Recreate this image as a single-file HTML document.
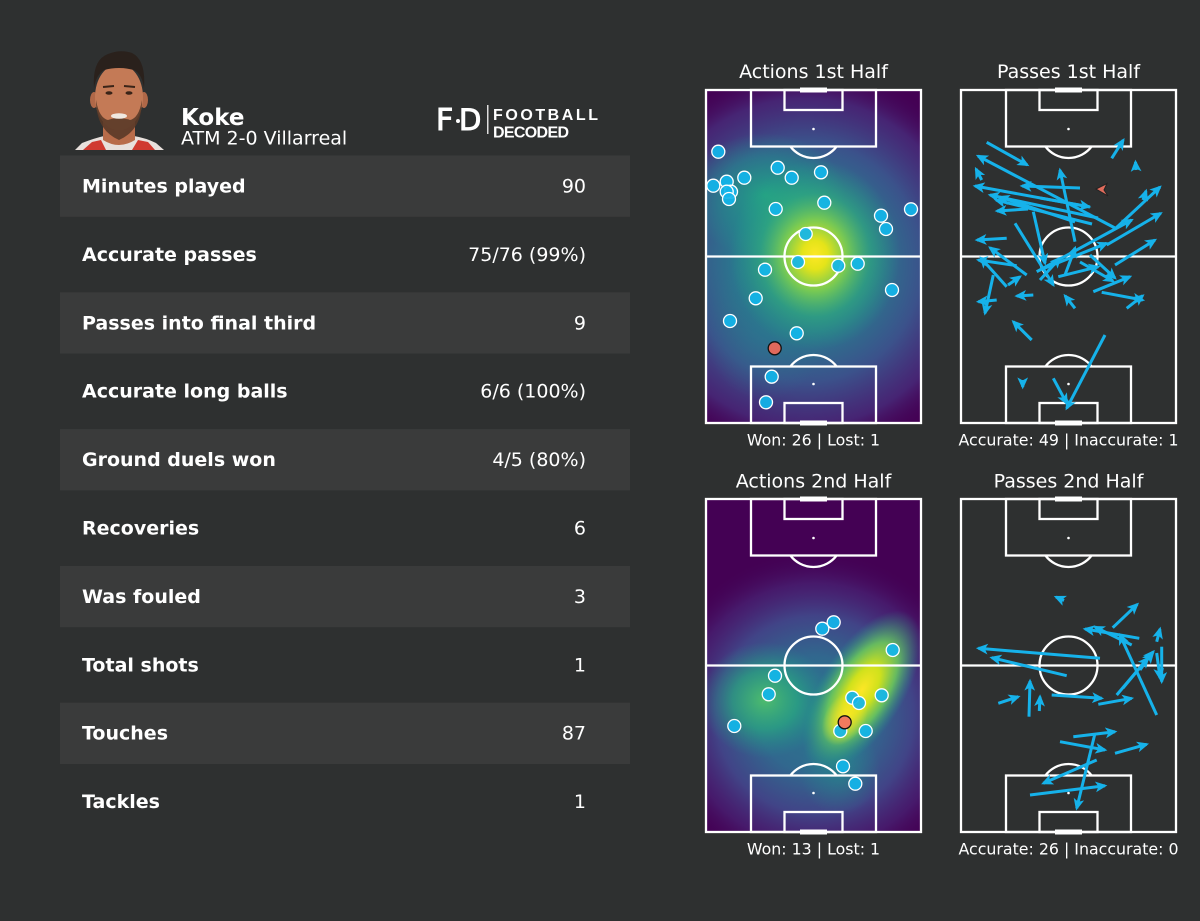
<!DOCTYPE html>
<html><head><meta charset="utf-8"><style>html,body{margin:0;padding:0;background:#2e3030;}svg{display:block;}</style></head>
<body>
<svg width="1200" height="921" viewBox="0 0 1200 921" xmlns="http://www.w3.org/2000/svg" font-family="DejaVu Sans, Liberation Sans, sans-serif">
<defs>
<clipPath id="c1"><rect x="706" y="90" width="215" height="333"/></clipPath>
<clipPath id="c2"><rect x="706" y="499" width="215" height="333"/></clipPath>
<radialGradient id="a1"><stop offset="0" stop-color="#21918c"/><stop offset="0.35" stop-color="#2a788e"/><stop offset="0.6" stop-color="#3b528b"/><stop offset="0.82" stop-color="#472d7b" stop-opacity="0.8"/><stop offset="1" stop-color="#440154" stop-opacity="0"/></radialGradient>
<radialGradient id="a2"><stop offset="0" stop-color="#22a884" stop-opacity="0.85"/><stop offset="0.6" stop-color="#21918c" stop-opacity="0.5"/><stop offset="1" stop-color="#21918c" stop-opacity="0"/></radialGradient>
<radialGradient id="a3"><stop offset="0" stop-color="#fde725"/><stop offset="0.15" stop-color="#e5e419"/><stop offset="0.38" stop-color="#86d549" stop-opacity="0.85"/><stop offset="0.65" stop-color="#35b779" stop-opacity="0.5"/><stop offset="1" stop-color="#22a884" stop-opacity="0"/></radialGradient>
<radialGradient id="a4"><stop offset="0" stop-color="#2a788e" stop-opacity="0.6"/><stop offset="1" stop-color="#2a788e" stop-opacity="0"/></radialGradient>
<radialGradient id="b1"><stop offset="0" stop-color="#2a788e"/><stop offset="0.35" stop-color="#31688e"/><stop offset="0.6" stop-color="#414487"/><stop offset="0.8" stop-color="#482475" stop-opacity="0.7"/><stop offset="1" stop-color="#440154" stop-opacity="0"/></radialGradient>
<radialGradient id="b2"><stop offset="0" stop-color="#52c569" stop-opacity="0.9"/><stop offset="0.5" stop-color="#29af7f" stop-opacity="0.65"/><stop offset="1" stop-color="#21918c" stop-opacity="0"/></radialGradient>
<radialGradient id="b3"><stop offset="0" stop-color="#fde725"/><stop offset="0.3" stop-color="#d0e11c"/><stop offset="0.6" stop-color="#6ece58" stop-opacity="0.85"/><stop offset="1" stop-color="#1f9e89" stop-opacity="0"/></radialGradient>
<radialGradient id="b4"><stop offset="0" stop-color="#fde725"/><stop offset="1" stop-color="#fde725" stop-opacity="0"/></radialGradient>
<radialGradient id="b5"><stop offset="0" stop-color="#21918c" stop-opacity="0.6"/><stop offset="1" stop-color="#21918c" stop-opacity="0"/></radialGradient>
<marker id="ah" viewBox="0 0 10 9" refX="8" refY="4.5" markerWidth="12" markerHeight="11" markerUnits="userSpaceOnUse" orient="auto"><path d="M0,0 L10,4.5 L0,9 L2.5,4.5 Z" fill="#16b2ea"/></marker>
<g id="pl">
<g fill="none" stroke="#fff" stroke-width="2.3">
<rect x="706" y="90" width="215" height="333"/>
<line x1="706" y1="256.5" x2="921" y2="256.5"/>
<circle cx="813.5" cy="256.5" r="29"/>
<rect x="751" y="90" width="125" height="56.5"/>
<rect x="784.5" y="90" width="58" height="20"/>
<path d="M790.4,146.5 A29,29 0 0 0 836.6,146.5"/>
<rect x="751" y="366.5" width="125" height="56.5"/>
<rect x="784.5" y="403" width="58" height="20"/>
<path d="M790.4,366.5 A29,29 0 0 1 836.6,366.5"/>
</g>
<rect x="800" y="87.5" width="27" height="5" fill="#fff"/>
<rect x="800" y="420.5" width="27" height="5" fill="#fff"/>
<circle cx="813.5" cy="129" r="1.3" fill="#fff"/>
<circle cx="813.5" cy="384" r="1.3" fill="#fff"/>
</g>
</defs>

<rect width="1200" height="921" fill="#2e3030"/>

<!-- Photo -->
<g>
<path d="M75,150 L82,143 Q95,138 104,136 L134,136 Q146,138 156,143 L164,150 Z" fill="#e8e0dc"/>
<path d="M83,150 L92,142 L101,140 L106,150 Z" fill="#d03a30"/>
<path d="M132,150 L138,140 L148,142 L155,150 Z" fill="#d03a30"/>
<path d="M103,118 L103,140 Q119,150 135,140 L135,118 Z" fill="#b86c4a"/>
<ellipse cx="94" cy="100" rx="4" ry="8" fill="#b06848"/>
<ellipse cx="144" cy="100" rx="4" ry="8" fill="#b06848"/>
<ellipse cx="119" cy="97" rx="24" ry="33" fill="#c47a56"/>
<path d="M94,88 Q92,60 108,54 Q120,49 132,53 Q146,60 144,88 Q142,74 134,70 Q119,66 104,70 Q96,75 94,88 Z" fill="#2a211c"/>
<path d="M96,100 Q96,130 119,140 Q142,130 142,100 Q139,118 130,120 Q119,116 108,120 Q99,118 96,100 Z" fill="#5a3a28" opacity="0.9"/>
<ellipse cx="119" cy="116" rx="8" ry="2.8" fill="#f0e8e0"/>
<ellipse cx="109" cy="93" rx="3.5" ry="1.8" fill="#3a2418"/>
<ellipse cx="129" cy="93" rx="3.5" ry="1.8" fill="#3a2418"/>
<path d="M103,87 L114,86 M124,86 L135,87" stroke="#3a2418" stroke-width="2"/>
</g>

<text x="181" y="125" font-size="23" font-weight="bold" fill="#fff">Koke</text>
<text x="181" y="144.5" font-size="19" fill="#fff">ATM 2-0 Villarreal</text>

<!-- Logo -->
<text x="436" y="130" font-size="30" fill="#fff" stroke="#fff" stroke-width="1">F</text>
<circle cx="458" cy="121" r="2" fill="#fff"/>
<text x="459" y="130" font-size="29" fill="#fff" stroke="#fff" stroke-width="1">D</text>
<rect x="487" y="105" width="1.5" height="29" fill="#ddd"/>
<text x="493" y="120" font-size="16" font-weight="bold" font-family="Liberation Sans, sans-serif" fill="#fff" textLength="105" lengthAdjust="spacing">FOOTBALL</text>
<text x="493" y="137.5" font-size="16" font-weight="bold" font-family="Liberation Sans, sans-serif" fill="#fff" textLength="76" lengthAdjust="spacing">DECODED</text>

<!-- Table -->
<g fill="#3a3b3b">
<rect x="60" y="155.5" width="570" height="61.3"/>
<rect x="60" y="292.3" width="570" height="61.3"/>
<rect x="60" y="429.1" width="570" height="61.3"/>
<rect x="60" y="565.9" width="570" height="61.3"/>
<rect x="60" y="702.7" width="570" height="61.3"/>
</g>
<g font-size="19" fill="#fff">
<g font-weight="bold">
<text x="82" y="192.5">Minutes played</text>
<text x="82" y="260.9">Accurate passes</text>
<text x="82" y="329.3">Passes into final third</text>
<text x="82" y="397.7">Accurate long balls</text>
<text x="82" y="466.1">Ground duels won</text>
<text x="82" y="534.5">Recoveries</text>
<text x="82" y="602.9">Was fouled</text>
<text x="82" y="671.3">Total shots</text>
<text x="82" y="739.7">Touches</text>
<text x="82" y="808.1">Tackles</text>
</g>
<g text-anchor="end">
<text x="586" y="192.5">90</text>
<text x="586" y="260.9">75/76 (99%)</text>
<text x="586" y="329.3">9</text>
<text x="586" y="397.7">6/6 (100%)</text>
<text x="586" y="466.1">4/5 (80%)</text>
<text x="586" y="534.5">6</text>
<text x="586" y="602.9">3</text>
<text x="586" y="671.3">1</text>
<text x="586" y="739.7">87</text>
<text x="586" y="808.1">1</text>
</g>
</g>

<!-- Titles & captions -->
<g fill="#fff" text-anchor="middle">
<text x="813.5" y="78" font-size="19">Actions 1st Half</text>
<text x="1068.5" y="78" font-size="19">Passes 1st Half</text>
<text x="813.5" y="487.5" font-size="19">Actions 2nd Half</text>
<text x="1068.5" y="487.5" font-size="19">Passes 2nd Half</text>
<text x="813.5" y="445.5" font-size="15.8">Won: 26 | Lost: 1</text>
<text x="1068.5" y="445.5" font-size="15.8">Accurate: 49 | Inaccurate: 1</text>
<text x="813.5" y="854.5" font-size="15.8">Won: 13 | Lost: 1</text>
<text x="1068.5" y="854.5" font-size="15.8">Accurate: 26 | Inaccurate: 0</text>
</g>

<!-- Heatmap 1 -->
<g clip-path="url(#c1)">
<rect x="706" y="90" width="215" height="333" fill="#440154"/>
<ellipse cx="805" cy="262" rx="195" ry="200" fill="url(#a1)"/>
<ellipse cx="765" cy="195" rx="80" ry="62" fill="url(#a2)"/>
<ellipse cx="765" cy="330" rx="60" ry="70" fill="url(#a4)"/>
<ellipse cx="815" cy="255" rx="85" ry="95" fill="url(#a3)"/>
</g>
<use href="#pl"/>

<!-- Heatmap 2 -->
<g clip-path="url(#c2)">
<rect x="706" y="499" width="215" height="333" fill="#440154"/>
<ellipse cx="815" cy="715" rx="165" ry="165" fill="url(#b1)"/>
<ellipse cx="840" cy="770" rx="40" ry="45" fill="url(#b5)"/>
<ellipse cx="765" cy="700" rx="65" ry="58" fill="url(#b2)"/>
<ellipse cx="862" cy="690" rx="42" ry="90" fill="url(#b3)" transform="rotate(32 862 690)"/>
<ellipse cx="845" cy="718" rx="20" ry="30" fill="url(#b4)" transform="rotate(32 845 718)"/>
</g>
<use href="#pl" transform="translate(0,409)"/>

<!-- Pass pitches -->
<use href="#pl" transform="translate(255,0)"/>
<use href="#pl" transform="translate(255,409)"/>

<!-- Action points 1st half -->
<g fill="#12b5ea" fill-opacity="0.92" stroke="#fff" stroke-width="1.3">
<circle cx="718.3" cy="151.7" r="6.5"/>
<circle cx="777.7" cy="167.7" r="6.5"/>
<circle cx="791.7" cy="177.7" r="6.5"/>
<circle cx="821" cy="172.3" r="6.5"/>
<circle cx="744.3" cy="177.7" r="6.5"/>
<circle cx="726.7" cy="181.7" r="6.5"/>
<circle cx="713.3" cy="185.7" r="6.5"/>
<circle cx="731" cy="191.7" r="6.5"/>
<circle cx="726.7" cy="191.7" r="6.5"/>
<circle cx="729" cy="199" r="6.5"/>
<circle cx="775.7" cy="209" r="6.5"/>
<circle cx="824.3" cy="202.7" r="6.5"/>
<circle cx="881" cy="215.7" r="6.5"/>
<circle cx="911" cy="209.3" r="6.5"/>
<circle cx="886" cy="229" r="6.5"/>
<circle cx="805.7" cy="234" r="6.5"/>
<circle cx="798" cy="262" r="6.5"/>
<circle cx="765" cy="269.7" r="6.5"/>
<circle cx="838.3" cy="265.7" r="6.5"/>
<circle cx="857.7" cy="263.7" r="6.5"/>
<circle cx="892" cy="290" r="6.5"/>
<circle cx="755.7" cy="298.3" r="6.5"/>
<circle cx="730" cy="321" r="6.5"/>
<circle cx="796.7" cy="333.3" r="6.5"/>
<circle cx="771.7" cy="376.7" r="6.5"/>
<circle cx="766" cy="402.3" r="6.5"/>
</g>
<circle cx="774.7" cy="348.3" r="6.5" fill="#e0695c" stroke="#111" stroke-width="1.3"/>

<!-- Action points 2nd half -->
<g fill="#12b5ea" fill-opacity="0.92" stroke="#fff" stroke-width="1.3">
<circle cx="833.7" cy="622.3" r="6.5"/>
<circle cx="822.3" cy="628.7" r="6.5"/>
<circle cx="892.7" cy="650" r="6.5"/>
<circle cx="775" cy="675.7" r="6.5"/>
<circle cx="768.7" cy="694.3" r="6.5"/>
<circle cx="852.3" cy="697.7" r="6.5"/>
<circle cx="859" cy="703" r="6.5"/>
<circle cx="881.7" cy="695.3" r="6.5"/>
<circle cx="734.3" cy="726" r="6.5"/>
<circle cx="840.3" cy="731" r="6.5"/>
<circle cx="865.7" cy="731" r="6.5"/>
<circle cx="843" cy="766.3" r="6.5"/>
<circle cx="855.3" cy="783.7" r="6.5"/>
</g>
<circle cx="844.7" cy="722.3" r="6.5" fill="#f07a5e" stroke="#111" stroke-width="1.3"/>

<!-- Passes 1st half -->
<g fill="none" stroke="#16b2ea" stroke-width="3" marker-end="url(#ah)">
<path d="M986.7,142.3 L1027.3,165"/>
<path d="M1111.7,158.3 L1123.3,140"/>
<path d="M1136,170 L1135.5,162"/>
<path d="M1115,228 L978,156"/>
<path d="M981.7,180 L976,169"/>
<path d="M1080,188 L1022,186"/>
<path d="M1090,207 L975,186"/>
<path d="M1098,218 L990,195"/>
<path d="M1092,224 L996,200"/>
<path d="M1075,222 L1000,197"/>
<path d="M1075,241.7 L1060,170"/>
<path d="M1028,209 L997,211"/>
<path d="M1040,198 L1089,206.7"/>
<path d="M1116,228 L1160,187"/>
<path d="M1143,200 L1146,191"/>
<path d="M1106.7,245 L1160.7,213.3"/>
<path d="M1036.7,271.7 L1131.7,220"/>
<path d="M1115,265 L1155,240"/>
<path d="M1015,223.3 L1053.3,285"/>
<path d="M1033.3,211.7 L1045,263.3"/>
<path d="M1040,280 L1060,258"/>
<path d="M1065,275 L1075,248"/>
<path d="M1040,270 L1106.7,243.3"/>
<path d="M1006.7,238.3 L977,240"/>
<path d="M1026.7,275 L990,247.7"/>
<path d="M1006.7,286.7 L981,258"/>
<path d="M1016.7,265.7 L978.3,260"/>
<path d="M993.3,275 L985,313.3"/>
<path d="M996.7,300 L978.3,301.7"/>
<path d="M1008,285 L1020,276.7"/>
<path d="M1033.3,295 L1016.7,296"/>
<path d="M1075,308.3 L1065,295.7"/>
<path d="M1031.7,340 L1013.3,321.7"/>
<path d="M1093.3,291.7 L1130,276.7"/>
<path d="M1101.7,292.3 L1142.7,300"/>
<path d="M1126.7,308.3 L1142.7,295.7"/>
<path d="M1058.3,276.7 L1098.3,266.7"/>
<path d="M1080,262 L1113,281"/>
<path d="M1090,255 L1115,278"/>
<path d="M1105,335 L1066.7,408.3"/>
<path d="M1053.3,378.3 L1066.7,403.3"/>
<path d="M1022.7,380 L1022.7,387"/>
</g>
<polygon points="1096,189 1107,183.5 1104,190 1108,196" fill="#e06c5c" stroke="#222" stroke-width="1"/>

<!-- Passes 2nd half -->
<g fill="none" stroke="#16b2ea" stroke-width="3" marker-end="url(#ah)">
<path d="M1064,600.5 L1056,597"/>
<path d="M1112.7,627.7 L1137.3,604.3"/>
<path d="M1139.3,638.3 L1085,629"/>
<path d="M1131.7,645 L1095,627"/>
<path d="M1156.7,641.7 L1160,629"/>
<path d="M1100,658.3 L978.3,648.3"/>
<path d="M1066.7,675.7 L991.7,657.7"/>
<path d="M1156.7,715 L1120,635"/>
<path d="M1116.7,695 L1153.3,651.7"/>
<path d="M1123,688 L1148,658"/>
<path d="M1161.7,646.7 L1161.7,681.7"/>
<path d="M1156.7,653 L1160,678"/>
<path d="M1140,670 L1152,653"/>
<path d="M998.3,703.3 L1018.3,696.7"/>
<path d="M1029,716.7 L1030,681"/>
<path d="M1039.3,711 L1040,696.7"/>
<path d="M1051.7,695 L1101.7,698.3"/>
<path d="M1098.3,704.3 L1131.7,698.3"/>
<path d="M1073.3,736.7 L1115,731.7"/>
<path d="M1060,741.7 L1105,750"/>
<path d="M1115,753.3 L1146.7,744.3"/>
<path d="M1095,733.3 L1076.7,808.3"/>
<path d="M1096.7,760 L1043.3,783.3"/>
<path d="M1030,795 L1105,785.7"/>
</g>
</svg>
</body></html>
